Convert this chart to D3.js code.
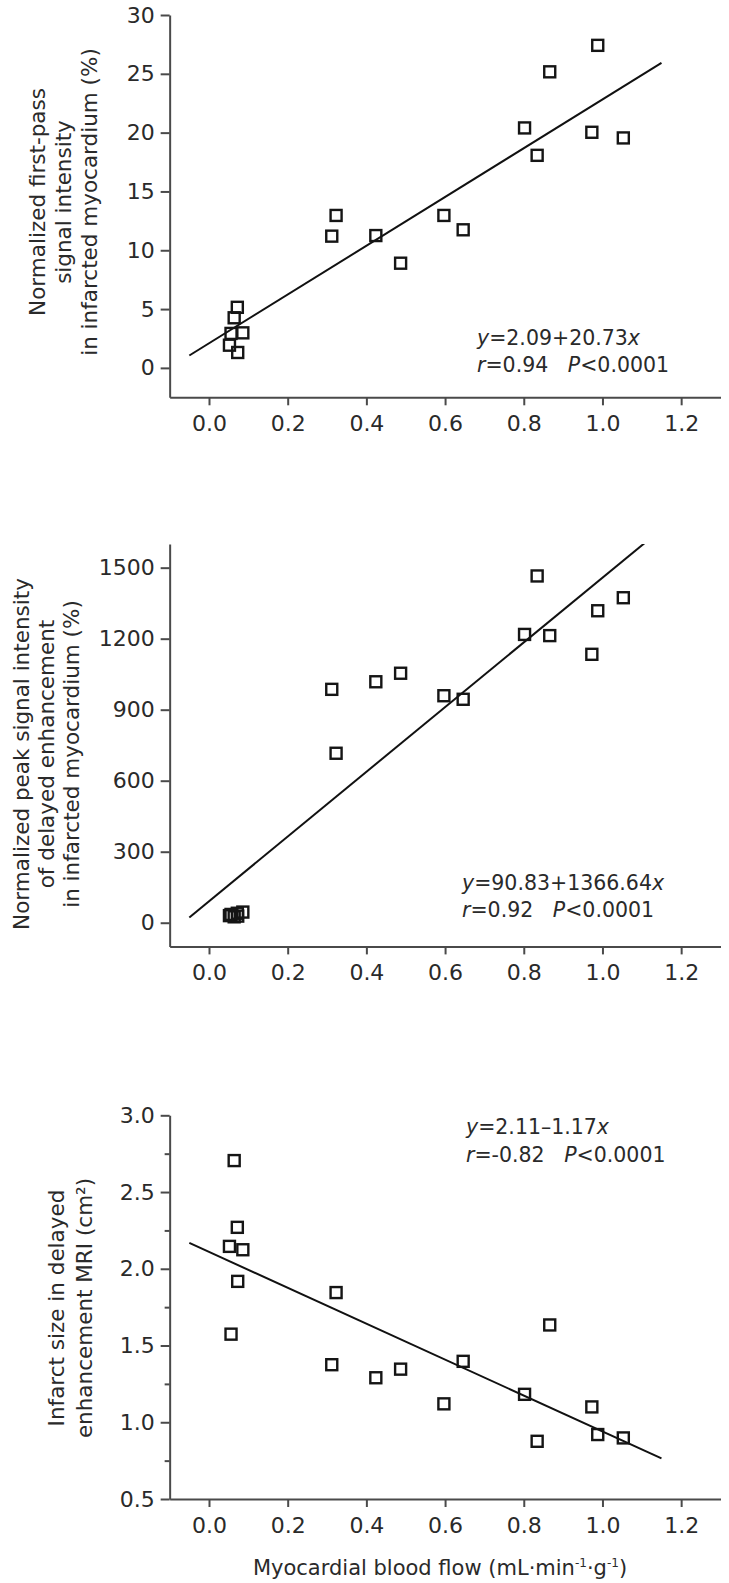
<!DOCTYPE html>
<html>
<head>
<meta charset="utf-8">
<script src="https://cdn.jsdelivr.net/npm/d3@7"></script>
<style>
  html, body { margin: 0; padding: 0; background: #fff; }
  svg { display: block; font-family: "DejaVu Sans", sans-serif; }
</style>
</head>
<body>
<svg id="chart" width="729" height="1583"></svg>
<script>
// ---------------- data ----------------
const flowX = [0.052, 0.056, 0.064, 0.072, 0.073, 0.086, 0.312, 0.323, 0.424, 0.487, 0.597, 0.646, 0.802, 0.834, 0.866, 0.973, 0.988, 1.053];
const firstPassSI = [1.93, 2.93, 4.26, 5.15, 1.31, 2.98, 11.2, 12.96, 11.25, 8.9, 12.96, 11.74, 20.4, 18.07, 25.17, 20.03, 27.42, 19.55];
const peakDE = [30, 35, 25, 40, 28, 45, 986, 716, 1018, 1054, 959, 944, 1218, 1465, 1213, 1134, 1318, 1373];
const infarctSize = [2.146, 1.574, 2.705, 2.27, 1.918, 2.124, 1.375, 1.845, 1.29, 1.346, 1.12, 1.397, 1.182, 0.876, 1.634, 1.10, 0.92, 0.898];

const xTicks = [0.0, 0.2, 0.4, 0.6, 0.8, 1.0, 1.2];
const yTicksTop = [0, 5, 10, 15, 20, 25, 30];
const yTicksMid = [0, 300, 600, 900, 1200, 1500];
const yTicksBot = [0.5, 1.0, 1.5, 2.0, 2.5, 3.0];
const yMinorBot = [0.75, 1.25, 1.75, 2.25, 2.75];

const intercepts = [2.09, 90.83, 2.11];
const slopes = [20.73, 1366.64, -1.17];
const fitRange = [-0.05, 1.15];

const titlesTop = ["Normalized first-pass", "signal intensity", "in infarcted myocardium (%)"];
const titlesMid = ["Normalized peak signal intensity", "of delayed enhancement", "in infarcted myocardium (%)"];
const titlesBot = ["Infarct size in delayed", "enhancement MRI (cm²)"];

// ---------------- layout ----------------
const svg = d3.select("#chart");
const x = d3.scaleLinear().domain([-0.1, 1.3]).range([169.65, 720.5]);

const panels = [
  { ys: firstPassSI, domain: [-2.5, 30], range: [397.3, 15], ticks: yTicksTop, fmt: d3.format("d"), minor: [],
    titles: titlesTop, titleX: [37, 63, 89], titleY: 202,
    eq: [["y", "=2.09+20.73", "x"], ["r", "=0.94   ", "P", "<0.0001"]], eqX: 477, eqY: [345, 372] },
  { ys: peakDE, domain: [-100, 1600], range: [946.4, 544], ticks: yTicksMid, fmt: d3.format("d"), minor: [],
    titles: titlesMid, titleX: [21, 46, 71], titleY: 754,
    eq: [["y", "=90.83+1366.64", "x"], ["r", "=0.92   ", "P", "<0.0001"]], eqX: 462, eqY: [890, 917] },
  { ys: infarctSize, domain: [0.5, 3.0], range: [1499, 1115.3], ticks: yTicksBot, fmt: d3.format(".1f"), minor: yMinorBot,
    titles: titlesBot, titleX: [56, 84], titleY: 1308,
    eq: [["y", "=2.11\u20131.17", "x"], ["r", "=-0.82   ", "P", "<0.0001"]], eqX: 466, eqY: [1134, 1162] }
];

const axisColor = "#4a4a4a";

panels.forEach((p, i) => {
  const y = d3.scaleLinear().domain(p.domain).range(p.range);
  const g = svg.append("g");

  const clipId = "clip" + i;
  svg.append("clipPath").attr("id", clipId).append("rect")
    .attr("x", x.range()[0]).attr("y", p.range[1])
    .attr("width", x.range()[1] - x.range()[0]).attr("height", p.range[0] - p.range[1]);

  g.append("g").attr("transform", `translate(${x.range()[0]},0)`)
    .call(d3.axisLeft(y).tickValues(p.ticks).tickFormat(p.fmt).tickSize(9).tickSizeOuter(0).tickPadding(6));
  if (p.minor.length) {
    g.append("g").attr("transform", `translate(${x.range()[0]},0)`)
      .call(d3.axisLeft(y).tickValues(p.minor).tickFormat("").tickSize(5).tickSizeOuter(0))
      .select(".domain").remove();
  }
  g.append("g").attr("transform", `translate(0,${p.range[0]})`)
    .call(d3.axisBottom(x).tickValues(xTicks).tickFormat(d3.format(".1f")).tickSize(8).tickSizeOuter(0).tickPadding(10));

  g.selectAll(".domain").attr("stroke", axisColor).attr("stroke-width", 2);
  g.selectAll(".tick line").attr("stroke", axisColor).attr("stroke-width", 2);
  g.selectAll(".tick text").attr("fill", "#2a2a2a").style("font-size", "22px").style("font-family", "DejaVu Sans");

  const fit = fitRange.map(v => [v, intercepts[i] + slopes[i] * v]);
  g.append("path")
    .attr("clip-path", `url(#${clipId})`)
    .attr("d", d3.line().x(d => x(d[0])).y(d => y(d[1]))(fit))
    .attr("fill", "none").attr("stroke", "#111").attr("stroke-width", 2);

  const s = 11;
  g.selectAll("rect.pt").data(flowX.map((v, k) => [v, p.ys[k]])).enter().append("rect")
    .attr("class", "pt")
    .attr("x", d => x(d[0]) - s / 2).attr("y", d => y(d[1]) - s / 2)
    .attr("width", s).attr("height", s)
    .attr("fill", "none").attr("stroke", "#151515").attr("stroke-width", 2.4);

  p.titles.forEach((t, k) => {
    g.append("text")
      .attr("transform", `translate(${p.titleX[k]},${p.titleY}) rotate(-90)`)
      .attr("text-anchor", "middle").attr("dominant-baseline", "central")
      .style("font-size", "21.5px").attr("fill", "#2a2a2a").text(t);
  });

  p.eq.forEach((parts, k) => {
    const t = g.append("text").attr("x", p.eqX).attr("y", p.eqY[k])
      .style("font-size", "20.5px").attr("fill", "#2a2a2a").style("white-space", "pre");
    parts.forEach((s2, j) => {
      const italic = (j === 0 || j === 2);
      t.append("tspan").style("font-style", italic ? "italic" : "normal").text(s2);
    });
  });
});

// x-axis title (bottom)
const xt = svg.append("text").attr("x", 440).attr("y", 1575).attr("text-anchor", "middle")
  .style("font-size", "21px").attr("fill", "#2a2a2a");
xt.append("tspan").text("Myocardial blood flow (mL·min");
xt.append("tspan").attr("dy", -8).style("font-size", "12px").text("-1");
xt.append("tspan").attr("dy", 8).text("·g");
xt.append("tspan").attr("dy", -8).style("font-size", "12px").text("-1");
xt.append("tspan").attr("dy", 8).text(")");
</script>
</body>
</html>
